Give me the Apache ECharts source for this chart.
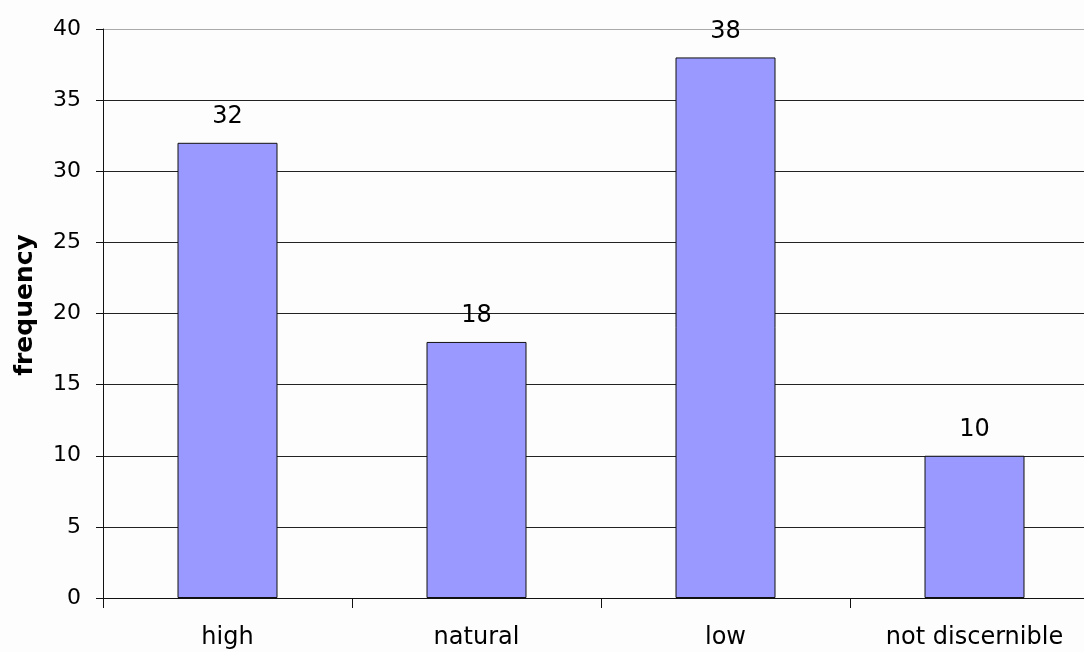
<!DOCTYPE html>
<html>
<head>
<meta charset="utf-8">
<script src="https://cdn.jsdelivr.net/npm/echarts@6/dist/echarts.min.js"></script>
<style>
  html, body { margin: 0; padding: 0; background: #fdfdfd; }
  #chart { width: 1084px; height: 652px; }
</style>
</head>
<body>
<div id="chart"></div>
<script>
// Frequency per category
const categories = ['high', 'natural', 'low', 'not discernible'];
const frequency = [32, 18, 38, 10];
const yTicks = { min: 0, max: 40, interval: 5 };

const font = '"DejaVu Sans", Arial, sans-serif';
const chart = echarts.init(document.getElementById('chart'), null, { renderer: 'canvas' });

// grid lines: dark for interior levels, lighter for the top line
const gridColors = ['#222', '#222', '#222', '#222', '#222', '#222', '#222', '#222', '#aaa'];

chart.setOption({
  backgroundColor: '#fdfdfd',
  animation: false,
  // plot area runs past the right edge of the canvas
  grid: { left: 103, top: 29, width: 996, height: 569, outerBoundsMode: 'none', containLabel: false },
  xAxis: {
    type: 'category',
    data: categories,
    axisLine: { show: true, lineStyle: { color: '#111', width: 1 } },
    axisTick: { show: true, length: 10, lineStyle: { color: '#111' } },
    axisLabel: { margin: 28, color: '#000', fontSize: 24, fontFamily: font },
    splitLine: { show: false }
  },
  yAxis: {
    type: 'value',
    min: yTicks.min,
    max: yTicks.max,
    interval: yTicks.interval,
    axisLine: { show: true, lineStyle: { color: '#111', width: 1 } },
    axisTick: { show: true, length: 7, lineStyle: { color: '#111' } },
    axisLabel: { margin: 22, color: '#000', fontSize: 22, fontFamily: font },
    splitLine: { show: true, lineStyle: { color: gridColors, width: 1 } }
  },
  graphic: [{
    type: 'text',
    x: 25,
    y: 305,
    rotation: Math.PI / 2,
    style: {
      text: 'frequency',
      fill: '#000',
      font: 'bold 25px ' + font,
      align: 'center',
      verticalAlign: 'middle'
    }
  }],
  series: [{
    type: 'bar',
    data: frequency,
    barWidth: 100,
    itemStyle: { color: '#9999ff', borderColor: '#111', borderWidth: 1 },
    label: {
      show: true,
      position: 'top',
      distance: 14,
      color: '#000',
      fontSize: 24,
      fontFamily: font
    }
  }]
});
</script>
</body>
</html>
